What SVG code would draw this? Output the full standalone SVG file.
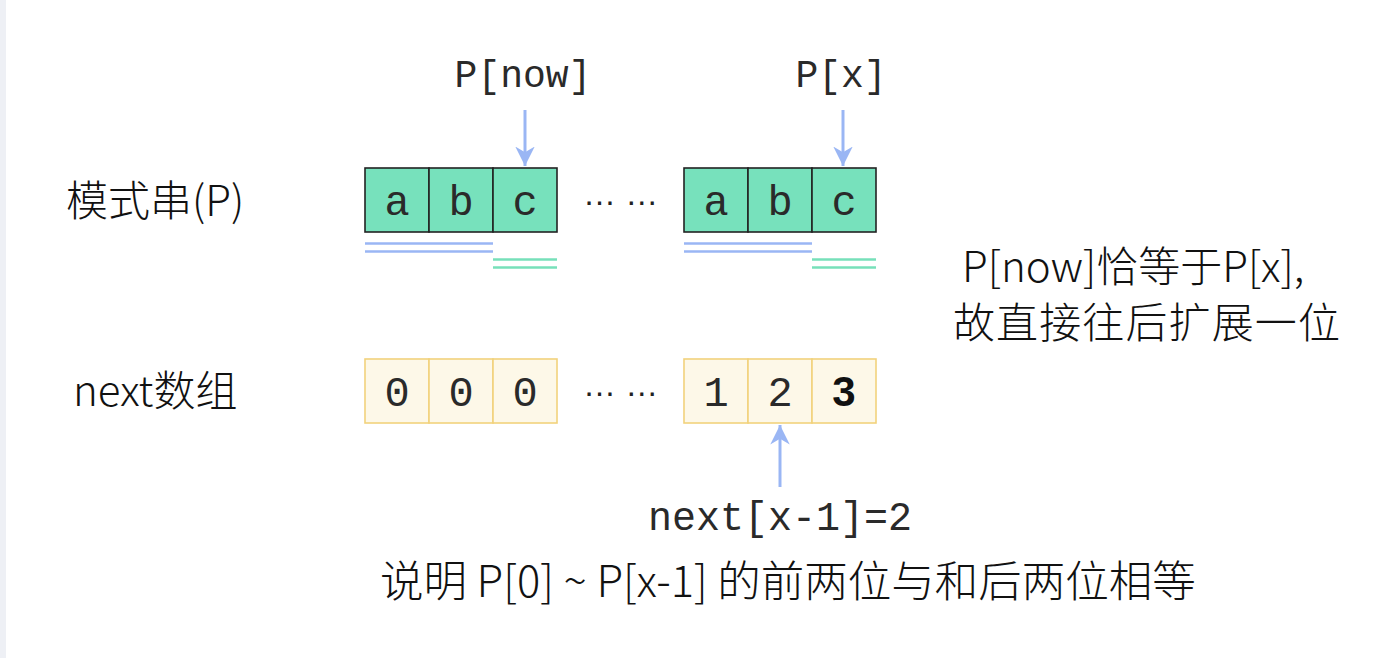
<svg xmlns="http://www.w3.org/2000/svg" width="1386" height="658" viewBox="0 0 1386 658">
<defs>
<style>
.cjk{font-family:"Noto Sans CJK SC","Noto Sans",sans-serif;font-weight:300;fill:#111}
.mono{font-family:"Liberation Mono","DejaVu Sans Mono",monospace;fill:#2a2a2a}
.pc{fill:#77e1bc;stroke:#222;stroke-width:1.6}
.nc{fill:#fdf8e8;stroke:#f2d27c;stroke-width:1.6}
.blue{stroke:#9ab6f4;stroke-width:2.6;fill:none}
.green{stroke:#77e0ba;stroke-width:2.6;fill:none}
.arr{stroke:#9ab6f4;stroke-width:3;fill:none}
</style>
<marker id="ah" viewBox="0 0 10 10" refX="10" refY="5" markerWidth="6.5" markerHeight="6.5" markerUnits="strokeWidth" orient="auto">
<path d="M0,0 L10,5 L0,10 L3,5 z" fill="#9ab6f4"/>
</marker>
</defs>
<rect width="1386" height="658" fill="#fff"/>
<rect x="0" y="0" width="6" height="658" fill="#eef0f5"/>

<g id="label-p"><text class="cjk" x="66" y="216" font-size="42">模式串(P)</text></g>
<g id="label-next"><text class="cjk" x="73" y="406" font-size="42">next数组</text></g>

<g id="p-left">
<rect class="pc" x="365" y="168" width="64" height="64"/>
<rect class="pc" x="429" y="168" width="64" height="64"/>
<rect class="pc" x="493" y="168" width="64" height="64"/>
<text class="mono" x="397" y="215" font-size="42" text-anchor="middle">a</text>
<text class="mono" x="461" y="215" font-size="42" text-anchor="middle">b</text>
<text class="mono" x="525" y="215" font-size="42" text-anchor="middle">c</text>
</g>
<g id="p-right">
<rect class="pc" x="684" y="168" width="64" height="64"/>
<rect class="pc" x="748" y="168" width="64" height="64"/>
<rect class="pc" x="812" y="168" width="64" height="64"/>
<text class="mono" x="716" y="215" font-size="42" text-anchor="middle">a</text>
<text class="mono" x="780" y="215" font-size="42" text-anchor="middle">b</text>
<text class="mono" x="844" y="215" font-size="42" text-anchor="middle">c</text>
</g>
<g id="dots-top"><text x="583" y="205" font-family="Liberation Sans,sans-serif" font-size="33" fill="#222">… …</text></g>

<g id="n-left">
<rect class="nc" x="365" y="359" width="64" height="64"/>
<rect class="nc" x="429" y="359" width="64" height="64"/>
<rect class="nc" x="493" y="359" width="64" height="64"/>
<text class="mono" x="397" y="406" font-size="42" text-anchor="middle">0</text>
<text class="mono" x="461" y="406" font-size="42" text-anchor="middle">0</text>
<text class="mono" x="525" y="406" font-size="42" text-anchor="middle">0</text>
</g>
<g id="n-right">
<rect class="nc" x="684" y="359" width="64" height="64"/>
<rect class="nc" x="748" y="359" width="64" height="64"/>
<rect class="nc" x="812" y="359" width="64" height="64"/>
<text class="mono" x="716" y="406" font-size="42" text-anchor="middle">1</text>
<text class="mono" x="780" y="406" font-size="42" text-anchor="middle">2</text>
<text x="844" y="406" font-size="42" text-anchor="middle" font-family="Liberation Sans,sans-serif" font-weight="bold" fill="#111">3</text>
</g>
<g id="dots-bottom"><text x="583" y="396" font-family="Liberation Sans,sans-serif" font-size="33" fill="#222">… …</text></g>

<g id="label-pnow"><text class="mono" x="523" y="87" font-size="38" text-anchor="middle">P[now]</text></g>
<g id="label-px"><text class="mono" x="841" y="87" font-size="38" text-anchor="middle">P[x]</text></g>
<g id="label-nextx"><text class="mono" x="780" y="530" font-size="40" text-anchor="middle">next[x-1]=2</text></g>

<g id="connectors">
<line class="arr" x1="525" y1="110" x2="525" y2="166" marker-end="url(#ah)"/>
<line class="arr" x1="843" y1="110" x2="843" y2="166" marker-end="url(#ah)"/>
<line class="arr" x1="780" y1="487" x2="780" y2="425" marker-end="url(#ah)"/>
<line class="blue" x1="365" y1="243.5" x2="493" y2="243.5"/>
<line class="blue" x1="365" y1="251.5" x2="493" y2="251.5"/>
<line class="green" x1="493" y1="259.5" x2="557" y2="259.5"/>
<line class="green" x1="493" y1="267.5" x2="557" y2="267.5"/>
<line class="blue" x1="684" y1="243.5" x2="812" y2="243.5"/>
<line class="blue" x1="684" y1="251.5" x2="812" y2="251.5"/>
<line class="green" x1="812" y1="259.5" x2="876" y2="259.5"/>
<line class="green" x1="812" y1="267.5" x2="876" y2="267.5"/>
</g>

<g id="note-right">
<text class="cjk" x="962" y="282" font-size="42">P[now]恰等于P[x],</text>
<text class="cjk" x="953" y="338" font-size="42" textLength="387">故直接往后扩展一位</text>
</g>
<g id="note-bottom"><text class="cjk" x="380" y="597" font-size="43.5">说明 P[0] ~ P[x-1] 的前两位与和后两位相等</text></g>
</svg>
